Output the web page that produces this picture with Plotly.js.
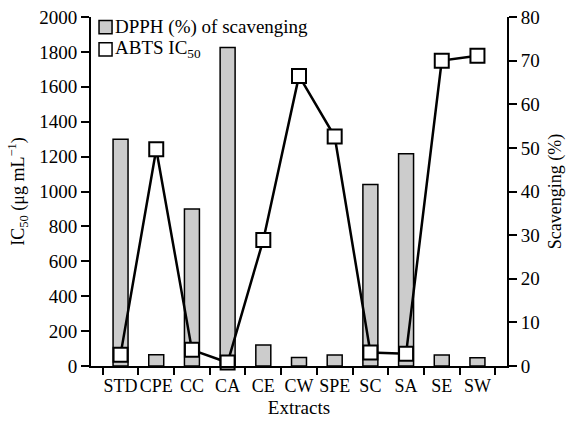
<!DOCTYPE html>
<html>
<head>
<meta charset="utf-8">
<script src="https://cdn.plot.ly/plotly-3.0.1.min.js"></script>
<style>html,body{margin:0;padding:0;background:#fff}#chart{width:566px;height:423px}</style>
</head>
<body>
<div id="chart"></div>
<script>
const categories = ['STD','CPE','CC','CA','CE','CW','SPE','SC','SA','SE','SW'];
const dpphValues = [1300, 65, 900, 1825, 120, 48, 63, 1040, 1217, 63, 47];
const abtsValues = [2.6, 49.7, 3.7, 0.8, 28.9, 66.5, 52.6, 3.1, 2.8, 70.0, 71.1];
const leftTicks = [0,200,400,600,800,1000,1200,1400,1600,1800,2000];
const rightTicks = [0,10,20,30,40,50,60,70,80];
const dpphName = 'DPPH (%) of scavenging';
const abtsName = 'ABTS IC<sub>50</sub>';

const FONT = 'Liberation Serif, Times New Roman, serif';

const traces = [
  {
    type: 'bar', x: categories, y: dpphValues, name: dpphName, yaxis: 'y',
    marker: {color: '#cccccc', line: {color: '#000', width: 1.5}},
    showlegend: false, hoverinfo: 'x+y'
  },
  {
    type: 'scatter', mode: 'lines+markers', x: categories, y: abtsValues, name: abtsName, yaxis: 'y2',
    line: {color: '#000', width: 2.5},
    marker: {symbol: 'square', size: 14, color: '#fff', line: {color: '#000', width: 2}},
    showlegend: false, cliponaxis: false
  }
];

const axisCommon = {
  showgrid: false, zeroline: false, showline: true, linecolor: '#000', linewidth: 2,
  ticks: 'outside', ticklen: 8, tickwidth: 2, tickcolor: '#000',
  tickfont: {family: FONT, size: 19, color: '#000'}
};

const layout = {
  width: 566, height: 423,
  margin: {l: 91, r: 59, t: 17, b: 57},
  paper_bgcolor: '#fff', plot_bgcolor: '#fff',
  font: {family: FONT, size: 19, color: '#000'},
  bargap: 0.58,
  showlegend: false,
  xaxis: Object.assign({}, axisCommon, {
    type: 'category', tickson: 'boundaries', ticklen: 7, tickangle: 0, automargin: false,
    ticklabelstandoff: 2,
    tickfont: {family: FONT, size: 18, color: '#000'},
    title: {text: 'Extracts', font: {family: FONT, size: 19, color: '#000'}, standoff: 6}
  }),
  yaxis: Object.assign({}, axisCommon, {
    range: [0, 2000], tickvals: leftTicks, ticktext: leftTicks.map(String), automargin: false,
    title: {text: 'IC<sub>50</sub> (μg mL<sup>−1</sup>)', font: {family: FONT, size: 18, color: '#000'}, standoff: 10}
  }),
  yaxis2: Object.assign({}, axisCommon, {
    range: [0, 80], tickvals: rightTicks, ticktext: rightTicks.map(String), automargin: false,
    overlaying: 'y', side: 'right',
    title: {text: 'Scavenging (%)', font: {family: FONT, size: 18, color: '#000'}, standoff: 10}
  }),
  shapes: [
    {type: 'rect', xref: 'paper', yref: 'paper', x0: 0.0193, x1: 0.0506, y0: 0.952, y1: 0.990,
     fillcolor: '#cccccc', line: {color: '#000', width: 1.5}},
    {type: 'rect', xref: 'paper', yref: 'paper', x0: 0.0193, x1: 0.0506, y0: 0.888, y1: 0.926,
     fillcolor: '#ffffff', line: {color: '#000', width: 1.5}}
  ],
  annotations: [
    {xref: 'paper', yref: 'paper', x: 0.052, y: 0.971, xanchor: 'left', yanchor: 'middle',
     text: dpphName, showarrow: false, font: {family: FONT, size: 19, color: '#000'}},
    {xref: 'paper', yref: 'paper', x: 0.052, y: 0.907, xanchor: 'left', yanchor: 'middle',
     text: abtsName, showarrow: false, font: {family: FONT, size: 19, color: '#000'}}
  ]
};

Plotly.newPlot('chart', traces, layout, {displayModeBar: false, staticPlot: true});
</script>
</body>
</html>
